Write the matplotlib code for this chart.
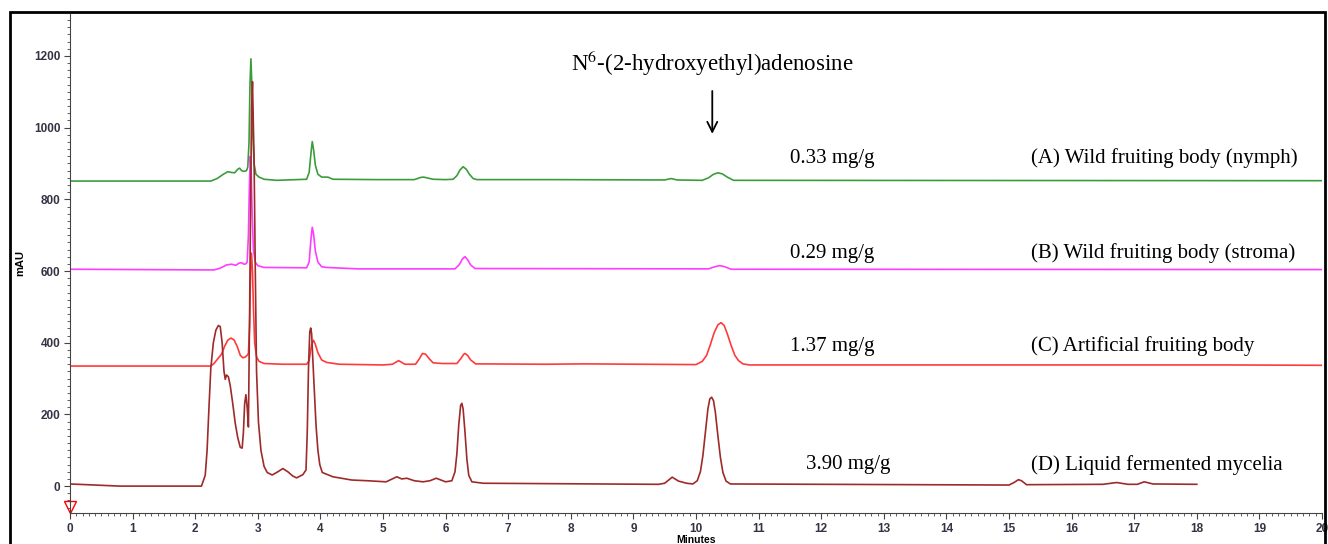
import matplotlib
matplotlib.use("Agg")
import matplotlib.pyplot as plt
from matplotlib.patches import Rectangle

plt.rcParams["mathtext.fontset"] = "stix"

# (A) wild fruiting body (nymph) - green
t_a = [0, 2.25, 2.35, 2.45, 2.52, 2.58, 2.63, 2.68, 2.71, 2.74, 2.78, 2.82, 2.84, 2.86, 2.875, 2.89,
       2.905, 2.92, 2.94, 2.97, 3.02, 3.1, 3.3, 3.78, 3.82, 3.85, 3.87, 3.89, 3.92, 3.96, 4.02,
       4.12, 4.2, 4.9, 5.5, 5.6, 5.65, 5.7, 5.8, 6.0, 6.12, 6.18, 6.23, 6.28, 6.33, 6.38, 6.44,
       6.5, 7.7, 9.5, 9.6, 9.7, 10.1, 10.2, 10.28, 10.35, 10.42, 10.5, 10.6, 20]
v_a = [851, 851, 858, 870, 877, 875, 874, 884, 887, 880, 878, 880, 890, 960, 1120, 1192,
       1120, 980, 900, 870, 862, 856, 853, 856, 875, 930, 961, 940, 895, 870, 862,
       862, 856, 855, 855, 861, 862, 860, 856, 855, 856, 866, 882, 891, 884, 870, 858,
       855, 855, 854, 858, 854, 853, 860, 870, 874, 871, 862, 853, 852]

# (B) wild fruiting body (stroma) - magenta
t_b = [0, 2.3, 2.4, 2.5, 2.58, 2.65, 2.7, 2.74, 2.78, 2.81, 2.83, 2.85, 2.865, 2.88, 2.895, 2.91,
       2.93, 2.96, 3.0, 3.1, 3.78, 3.82, 3.85, 3.87, 3.89, 3.92, 3.96, 4.02, 4.1, 4.6, 6.15,
       6.22, 6.27, 6.31, 6.35, 6.4, 6.47, 10.2, 10.3, 10.38, 10.46, 10.56, 20]
v_b = [605, 603, 608, 617, 619, 616, 622, 623, 619, 620, 625, 700, 830, 920, 870, 760,
       660, 625, 615, 610, 609, 625, 690, 722, 705, 655, 625, 612, 610, 606, 606,
       618, 634, 640, 632, 617, 607, 606, 612, 615, 612, 605, 604]

# (C) artificial fruiting body - red
t_c = [0, 2.25, 2.3, 2.36, 2.42, 2.47, 2.52, 2.57, 2.62, 2.67, 2.72, 2.76, 2.8, 2.83, 2.85, 2.87,
       2.885, 2.9, 2.915, 2.93, 2.95, 2.98, 3.02, 3.1, 3.4, 3.78, 3.82, 3.86, 3.89, 3.92, 3.96,
       4.02, 4.1, 4.3, 5.0, 5.15, 5.25, 5.35, 5.52, 5.58, 5.63, 5.68, 5.74, 5.8, 5.95, 6.18,
       6.24, 6.29, 6.31, 6.35, 6.4, 6.48, 7.6, 8.2, 10.0, 10.1, 10.17, 10.23, 10.29, 10.35,
       10.4, 10.45, 10.5, 10.56, 10.62, 10.68, 10.75, 10.85, 17.8, 18.5, 20]
v_c = [335, 335, 342, 355, 368, 390, 407, 413, 408, 390, 365, 358, 360, 365, 370, 450,
       600, 650, 600, 500, 400, 360, 348, 342, 340, 340, 350, 395, 407, 395, 372,
       352, 345, 340, 338, 340, 350, 340, 340, 355, 370, 368, 355, 344, 342, 342,
       355, 368, 370, 365, 352, 341, 340, 341, 339, 348, 365, 395, 428, 450,
       456, 448, 425, 393, 365, 350, 341, 338, 338, 338, 337]

# (D) liquid fermented mycelia - dark red
t_d = [0, 0.8, 2.1, 2.16, 2.19, 2.22, 2.25, 2.29, 2.33, 2.37, 2.4, 2.43, 2.46, 2.48, 2.5, 2.53,
       2.56, 2.6, 2.64, 2.68, 2.72, 2.75, 2.77, 2.79, 2.81, 2.83, 2.85, 2.87, 2.9, 2.915, 2.93,
       2.94, 2.96, 2.98, 3.01, 3.05, 3.1, 3.15, 3.23, 3.32, 3.4, 3.48, 3.56, 3.62, 3.72, 3.77,
       3.79, 3.81, 3.83, 3.845, 3.86, 3.88, 3.9, 3.93, 3.96, 3.99, 4.03, 4.2, 4.5, 4.75, 5.05,
       5.22, 5.3, 5.38, 5.5, 5.64, 5.75, 5.85, 6.0, 6.1, 6.15, 6.18, 6.21, 6.24, 6.26, 6.28,
       6.31, 6.34, 6.37, 6.42, 6.6, 9.4, 9.5, 9.62, 9.72, 9.85, 9.95, 10.02, 10.07, 10.11,
       10.15, 10.19, 10.22, 10.25, 10.28, 10.31, 10.35, 10.39, 10.43, 10.48, 10.55, 15.0, 15.08,
       15.15, 15.2, 15.28, 16.5, 16.72, 16.9, 17.05, 17.16, 17.3, 18.0]
v_d = [6, 0, 0, 30, 100, 220, 330, 400, 435, 448, 445, 400, 320, 298, 310, 305,
       280, 230, 175, 135, 108, 106, 150, 230, 255, 220, 165, 500, 1050, 1128, 1000,
       920, 600, 320, 180, 100, 55, 38, 31, 40, 49, 40, 28, 23, 32, 45,
       150, 330, 430, 441, 425, 350, 277, 170, 100, 60, 38, 26, 17, 15, 12,
       26, 20, 22, 15, 12, 15, 22, 12, 15, 40, 90, 170, 225, 231, 215,
       150, 75, 30, 12, 8, 5, 8, 25, 14, 8, 6, 15, 40, 85,
       150, 215, 243, 248, 238, 205, 140, 80, 38, 14, 6, 3, 10,
       18, 15, 4, 5, 10, 5, 5, 12, 6, 5]

contents = ["0.33 mg/g", "0.29 mg/g", "1.37 mg/g", "3.90 mg/g"]
content_x = [11.5, 11.5, 11.5, 11.75]
labels = ["(A) Wild fruiting body (nymph)", "(B) Wild fruiting body (stroma)",
          "(C) Artificial fruiting body", "(D) Liquid fermented mycelia"]
label_y = [915, 650, 390, 60]
colors = ["#3c9c3c", "#ff3cff", "#ff3a3a", "#9e2a2a"]

fig = plt.figure(figsize=(13.28, 5.44), dpi=100)
ax = fig.add_axes([70/1328, 31/544, 1252/1328, 499/544])

for t, v, c in zip([t_a, t_b, t_c, t_d], [v_a, v_b, v_c, v_d], colors):
    ax.plot(t, v, color=c, lw=1.2)

ax.set_xlim(0, 20)
ax.set_ylim(-75, 1317)
ax.set_xticks(range(0, 21))
ax.set_yticks(range(0, 1201, 200))
ax.set_xticks([i / 10 for i in range(0, 201)], minor=True)
ax.set_yticks(range(-60, 1320, 20), minor=True)
for s in ["top", "right"]:
    ax.spines[s].set_visible(False)
for s in ["left", "bottom"]:
    ax.spines[s].set_color("#444444")
ax.tick_params(which="major", length=4, color="#444444", labelsize=8.5, labelcolor="#333344", pad=3)
ax.tick_params(which="minor", length=2, color="#444444")
for lab in ax.get_xticklabels() + ax.get_yticklabels():
    lab.set_fontweight("bold")
    lab.set_family("Liberation Sans")
ax.set_xlabel("Minutes", fontsize=7.5, fontweight="bold", family="Liberation Sans", labelpad=0)
ax.set_ylabel("mAU", fontsize=8, fontweight="bold", family="Liberation Sans", labelpad=6)

# injection marker
ax.plot([0], [-58], marker="v", ms=8, mfc="none", mec="red", mew=1, clip_on=False)

serif = ["Liberation Serif", "DejaVu Serif"]
for x, y, s in zip(content_x, label_y, contents):
    ax.text(x, y, s, fontsize=15, family=serif, va="center", ha="left")
for y, s in zip(label_y, labels):
    ax.text(15.35, y, s, fontsize=15, family=serif, va="center", ha="left")

ax.text(10.26, 1180, r"N$^{6}$-(2-hydroxyethyl)adenosine", fontsize=16.5, family=serif,
        va="center", ha="center")
ax.annotate("", xy=(10.26, 975), xytext=(10.26, 1110),
            arrowprops=dict(arrowstyle="->", color="black", lw=1.3, mutation_scale=18))

fig.patches.append(Rectangle((10/1328, -0.05), 1315/1328, (532/544) + 0.05, transform=fig.transFigure,
                             fill=False, lw=2, edgecolor="black"))

fig.savefig("out.png", dpi=100)
